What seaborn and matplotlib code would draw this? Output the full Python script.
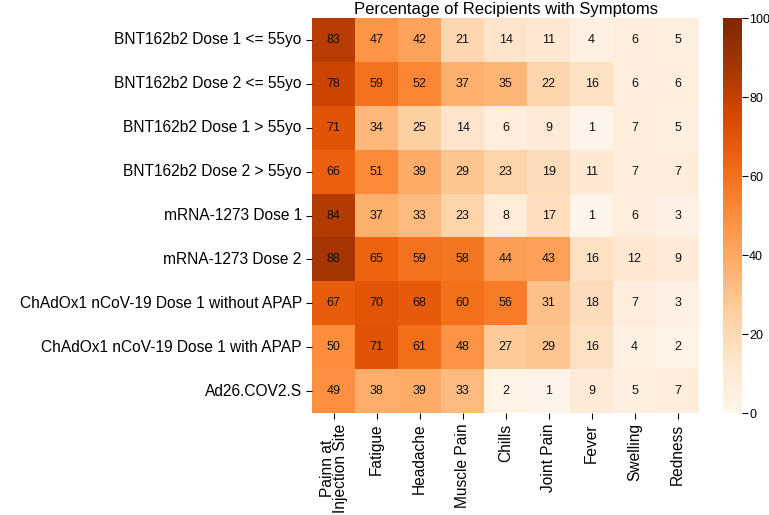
import numpy as np
import pandas as pd
import matplotlib.pyplot as plt
import seaborn as sns

vaccines = ["BNT162b2 Dose 1 <= 55yo", "BNT162b2 Dose 2 <= 55yo",
            "BNT162b2 Dose 1 > 55yo", "BNT162b2 Dose 2 > 55yo",
            "mRNA-1273 Dose 1", "mRNA-1273 Dose 2",
            "ChAdOx1 nCoV-19 Dose 1 without APAP",
            "ChAdOx1 nCoV-19 Dose 1 with APAP", "Ad26.COV2.S"]
symptoms = ["Painn at\nInjection Site", "Fatigue", "Headache", "Muscle Pain",
            "Chills", "Joint Pain", "Fever", "Swelling", "Redness"]

pain = [83, 78, 71, 66, 84, 88, 67, 50, 49]
fatigue = [47, 59, 34, 51, 37, 65, 70, 71, 38]
headache = [42, 52, 25, 39, 33, 59, 68, 61, 39]
muscle = [21, 37, 14, 29, 23, 58, 60, 48, 33]
chills = [14, 35, 6, 23, 8, 44, 56, 27, 2]
joint = [11, 22, 9, 19, 17, 43, 31, 29, 1]
fever = [4, 16, 1, 11, 1, 16, 18, 16, 9]
swelling = [6, 6, 7, 7, 6, 12, 7, 4, 5]
redness = [5, 6, 5, 7, 3, 9, 3, 2, 7]

df = pd.DataFrame(np.array([pain, fatigue, headache, muscle, chills, joint,
                            fever, swelling, redness]).T,
                  index=vaccines, columns=symptoms)

plt.rcParams['font.family'] = ['Liberation Sans', 'DejaVu Sans']
fig = plt.figure(figsize=(7.69, 5.15), dpi=100)
ax = fig.add_axes([0.406, 0.198, 0.503, 0.767])
cax = fig.add_axes([0.940, 0.198, 0.025, 0.767])
sns.heatmap(df, cmap="Oranges", vmin=0, vmax=100, annot=True, fmt="d",
            annot_kws={"fontsize": 9, "color": "#111111"},
            ax=ax, cbar_ax=cax)
ax.set_title("Percentage of Recipients with Symptoms", fontsize=12, pad=3)
ax.tick_params(axis='both', labelsize=11.2, length=4)
ax.set_xticklabels(ax.get_xticklabels(), rotation=90, linespacing=0.85)
ax.set_yticklabels(ax.get_yticklabels(), rotation=0)
cax.tick_params(labelsize=9, length=4, pad=1)
cax.set_yticks([0, 20, 40, 60, 80, 100])
for s in cax.spines.values():
    s.set_visible(False)

plt.savefig("out.png", dpi=100)
